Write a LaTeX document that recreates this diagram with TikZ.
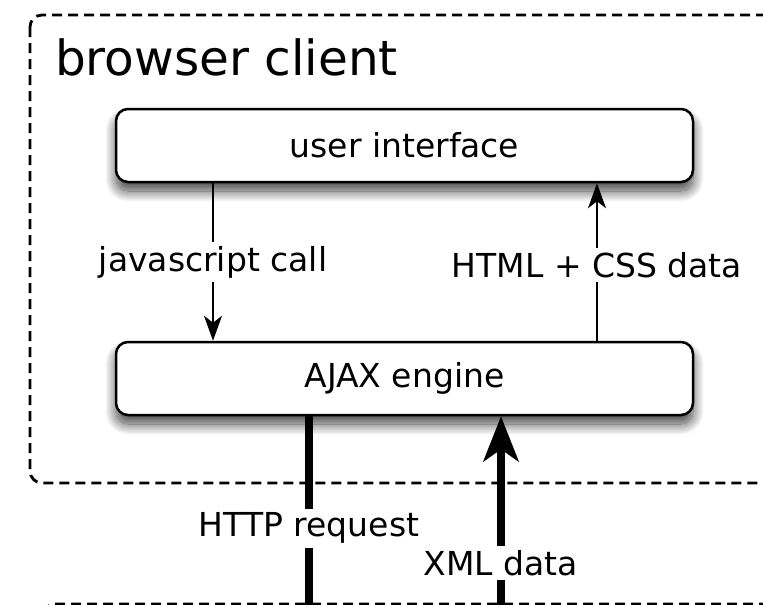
\documentclass[tikz,border=0pt]{standalone}
\usepackage{fontspec}
\setmainfont{DejaVu Sans}
\usetikzlibrary{arrows.meta,shadows.blur}

\tikzset{
	block/.style={draw, line width=2.5pt, rounded corners=12pt, fill=white,
		minimum width=577pt, minimum height=73pt, font=\fontsize{33}{40}\selectfont,
		blur shadow={shadow xshift=0pt, shadow yshift=-9pt, shadow blur radius=11pt,
			shadow blur steps=20, shadow opacity=75}},
	zone/.style={line width=2.8pt, dash pattern=on 10pt off 6pt, rounded corners=12pt},
	lbl/.style={fill=white, inner sep=4pt, font=\fontsize{33}{40}\selectfont},
	call/.style={line width=1.6pt, -{Stealth[length=25pt,width=18pt,inset=7pt]}},
	wire/.style={line width=8pt},
	bigtip/.style={-{Stealth[length=45pt,width=35pt,inset=12pt]}},
}

\begin{document}
\begin{tikzpicture}[x=1pt,y=-1pt]
		\clip (0,0) rectangle (763,605);
		% ZONES
		\draw[zone] (30,15) rectangle (800,483);
		\draw[zone] (43,604) rectangle (800,800);
		\node[anchor=base west, inner sep=0, font=\fontsize{48.5}{58}\selectfont] (title) at (55,75) {browser client};

		% BLOCKS
		\node[block] (ui) at (404.5,145.5) {user interface};
		\node[block] (ajax) at (404.5,378.5) {AJAX engine};
		\coordinate (jsx) at (213,0);
		\coordinate (htx) at (597,0);
		\coordinate (req) at (309,640);
		\coordinate (xml) at (501,640);

		% ARROWS
		\draw[call] (ui.south -| jsx) -- node[lbl] {javascript call} (ajax.north -| jsx);
		\draw[call] (ajax.north -| htx) -- node[lbl, pos=0.48] {HTML + CSS data} (ui.south -| htx);
		\draw[wire] (ajax.south -| req) -- node[lbl] {HTTP request} (req);
		\draw[wire, bigtip] (xml) -- node[lbl, pos=0.344] {XML data} (ajax.south -| xml);
	\end{tikzpicture}
\end{document}
